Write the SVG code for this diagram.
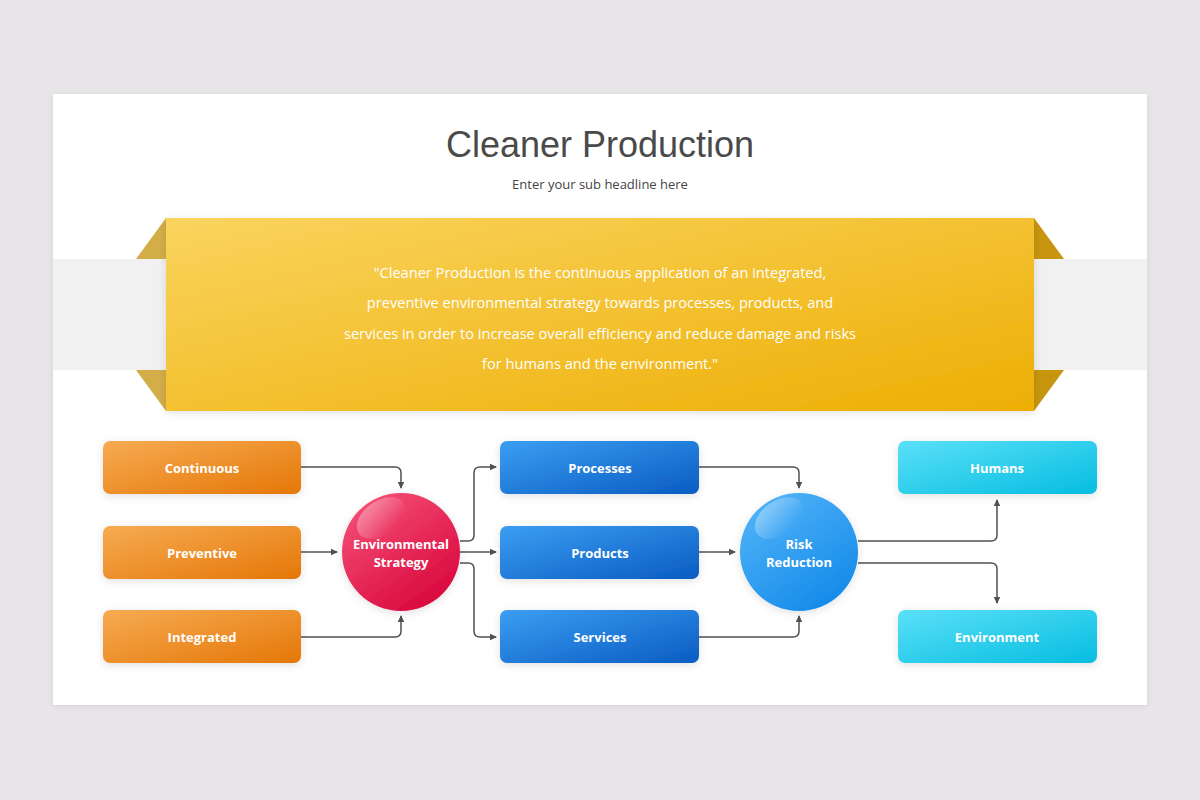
<svg xmlns="http://www.w3.org/2000/svg" width="1200" height="800" viewBox="0 0 1200 800">
<defs>
  <linearGradient id="gOrange" x1="0" y1="0" x2="1" y2="1">
    <stop offset="0" stop-color="#f6ab52"/><stop offset="1" stop-color="#e57708"/>
  </linearGradient>
  <linearGradient id="gBlue" x1="0" y1="0" x2="1" y2="1">
    <stop offset="0" stop-color="#3b9ef2"/><stop offset="1" stop-color="#0a5cc2"/>
  </linearGradient>
  <linearGradient id="gCyan" x1="0" y1="0" x2="1" y2="1">
    <stop offset="0" stop-color="#5ae0f8"/><stop offset="1" stop-color="#06bde0"/>
  </linearGradient>
  <linearGradient id="gYellow" x1="0" y1="0" x2="1" y2="1">
    <stop offset="0" stop-color="#fad45e"/><stop offset="1" stop-color="#edae04"/>
  </linearGradient>
  <linearGradient id="gRed" x1="0.2" y1="0.1" x2="0.8" y2="0.95">
    <stop offset="0" stop-color="#f24a72"/><stop offset="1" stop-color="#d9073d"/>
  </linearGradient>
  <linearGradient id="gRisk" x1="0.2" y1="0.1" x2="0.8" y2="0.95">
    <stop offset="0" stop-color="#4cb0f7"/><stop offset="1" stop-color="#148ae9"/>
  </linearGradient>
  <linearGradient id="gShine" x1="0" y1="0" x2="0.5" y2="1">
    <stop offset="0" stop-color="#fff" stop-opacity="0.4"/><stop offset="1" stop-color="#fff" stop-opacity="0"/>
  </linearGradient>
  <filter id="shadow" x="-20%" y="-30%" width="140%" height="160%">
    <feDropShadow dx="0" dy="2" stdDeviation="4" flood-color="#000" flood-opacity="0.12"/>
  </filter>
  <filter id="cardShadow" x="-5%" y="-5%" width="110%" height="110%">
    <feDropShadow dx="0" dy="1" stdDeviation="3" flood-color="#000" flood-opacity="0.1"/>
  </filter>
  <marker id="arrow" markerWidth="8" markerHeight="8" refX="6" refY="4" orient="auto" markerUnits="userSpaceOnUse">
    <path d="M0,0.8 L7,4 L0,7.2 Z" fill="#505050"/>
  </marker>
  <style>
    .box-label { font-family: "Open Sans", "Liberation Sans", sans-serif; font-weight: bold; font-size: 13px; fill: #fff; text-anchor: middle; }
    .quote { font-family: "Open Sans", "Liberation Sans", sans-serif; font-size: 14.6px; fill: #fff; text-anchor: middle; }
    .conn { fill: none; stroke: #505050; stroke-width: 1.5; marker-end: url(#arrow); }
  </style>
</defs>

<rect x="0" y="0" width="1200" height="800" fill="#e8e6e8"/>
<rect x="53" y="94" width="1094" height="611" fill="#ffffff" filter="url(#cardShadow)"/>

<text x="600" y="157" text-anchor="middle" font-family="Liberation Sans, Arial, sans-serif" font-size="36" fill="#4a4a4a">Cleaner Production</text>
<text x="600" y="189" text-anchor="middle" font-family="Open Sans, Liberation Sans, sans-serif" font-size="13" fill="#444">Enter your sub headline here</text>

<g id="banner">
  <rect x="53" y="259" width="1094" height="111" fill="#f1f1f2"/>
  <polygon points="136,259 166,218 166,259" fill="#d3ad48"/>
  <polygon points="136,370 166,370 166,411" fill="#d3ad48"/>
  <polygon points="1064,259 1034,218 1034,259" fill="#c8950e"/>
  <polygon points="1064,370 1034,370 1034,411" fill="#c8950e"/>
  <rect x="166" y="218" width="868" height="193" fill="url(#gYellow)" filter="url(#shadow)"/>
  <text class="quote" x="600" y="278">"Cleaner Production is the continuous application of an integrated,</text>
  <text class="quote" x="600" y="308">preventive environmental strategy towards processes, products, and</text>
  <text class="quote" x="600" y="339">services in order to increase overall efficiency and reduce damage and risks</text>
  <text class="quote" x="600" y="369">for humans and the environment."</text>
</g>

<g id="connectors">
  <path class="conn" d="M301,467 H395 Q401,467 401,473 V488"/>
  <path class="conn" d="M301,552 H337"/>
  <path class="conn" d="M301,637 H395 Q401,637 401,631 V616"/>
  <path class="conn" d="M460,541 H468 Q474,541 474,535 V473 Q474,467 480,467 H496"/>
  <path class="conn" d="M460,552 H496"/>
  <path class="conn" d="M460,563 H468 Q474,563 474,569 V631 Q474,637 480,637 H496"/>
  <path class="conn" d="M699,467 H793 Q799,467 799,473 V488"/>
  <path class="conn" d="M699,552 H735"/>
  <path class="conn" d="M699,637 H793 Q799,637 799,631 V616"/>
  <path class="conn" d="M858,541 H991 Q997,541 997,535 V500"/>
  <path class="conn" d="M858,563 H991 Q997,563 997,569 V603"/>
</g>

<g id="continuous">
  <rect x="103" y="441" width="198" height="53" rx="7" fill="url(#gOrange)" filter="url(#shadow)"/>
  <text class="box-label" x="202" y="473">Continuous</text>
</g>
<g id="preventive">
  <rect x="103" y="526" width="198" height="53" rx="7" fill="url(#gOrange)" filter="url(#shadow)"/>
  <text class="box-label" x="202" y="558">Preventive</text>
</g>
<g id="integrated">
  <rect x="103" y="610" width="198" height="53" rx="7" fill="url(#gOrange)" filter="url(#shadow)"/>
  <text class="box-label" x="202" y="642">Integrated</text>
</g>

<g id="environmental-strategy">
  <circle cx="401" cy="552" r="59" fill="url(#gRed)" filter="url(#shadow)"/>
  <ellipse cx="381" cy="518" rx="27" ry="17" transform="rotate(-35 381 518)" fill="url(#gShine)"/>
  <text class="box-label" x="401" y="549">Environmental</text>
  <text class="box-label" x="401" y="567">Strategy</text>
</g>

<g id="processes">
  <rect x="500" y="441" width="199" height="53" rx="7" fill="url(#gBlue)" filter="url(#shadow)"/>
  <text class="box-label" x="600" y="473">Processes</text>
</g>
<g id="products">
  <rect x="500" y="526" width="199" height="53" rx="7" fill="url(#gBlue)" filter="url(#shadow)"/>
  <text class="box-label" x="600" y="558">Products</text>
</g>
<g id="services">
  <rect x="500" y="610" width="199" height="53" rx="7" fill="url(#gBlue)" filter="url(#shadow)"/>
  <text class="box-label" x="600" y="642">Services</text>
</g>

<g id="risk-reduction">
  <circle cx="799" cy="552" r="59" fill="url(#gRisk)" filter="url(#shadow)"/>
  <ellipse cx="779" cy="518" rx="27" ry="17" transform="rotate(-35 779 518)" fill="url(#gShine)"/>
  <text class="box-label" x="799" y="549">Risk</text>
  <text class="box-label" x="799" y="567">Reduction</text>
</g>

<g id="humans">
  <rect x="898" y="441" width="199" height="53" rx="7" fill="url(#gCyan)" filter="url(#shadow)"/>
  <text class="box-label" x="997" y="473">Humans</text>
</g>
<g id="environment">
  <rect x="898" y="610" width="199" height="53" rx="7" fill="url(#gCyan)" filter="url(#shadow)"/>
  <text class="box-label" x="997" y="642">Environment</text>
</g>
</svg>
